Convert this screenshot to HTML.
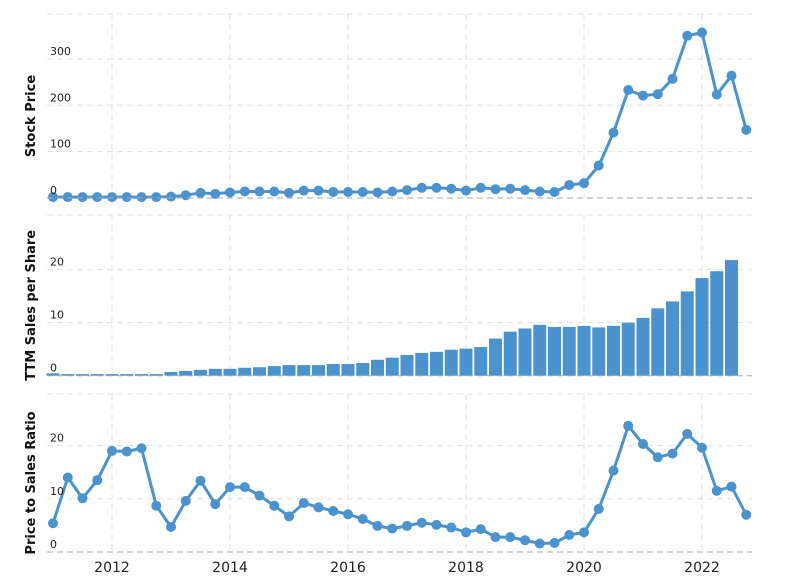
<!DOCTYPE html>
<html><head><meta charset="utf-8">
<style>
body{margin:0;background:#fff;}
svg{display:block;font-family:"DejaVu Sans","Liberation Sans",sans-serif;}
</style></head>
<body>
<svg id="chart" width="790" height="577" viewBox="0 0 790 577" xmlns="http://www.w3.org/2000/svg"></svg>
<script>
const years = [2012,2014,2016,2018,2020,2022];
const stockPrice = [2,2,2,2,2,2,2,2,3,6,11,9,12,14,14,14,11,16,16,13,13,13,12,14,17,22,22,20,16,22,19,20,17,14,13,28,32,70,141,233,221,224,257,350,357,223,264,147];
const salesPerShare = [0.45,0.3,0.3,0.3,0.3,0.3,0.3,0.3,0.7,0.9,1.1,1.3,1.3,1.5,1.6,1.8,2.0,2.0,2.0,2.2,2.2,2.4,3.0,3.4,3.9,4.3,4.5,4.9,5.1,5.4,7.0,8.3,8.9,9.6,9.2,9.2,9.4,9.1,9.4,10.0,10.9,12.7,14.0,15.9,18.4,19.7,21.8];
const psRatio = [5.4,14.0,10.1,13.5,19.0,18.9,19.5,8.7,4.7,9.6,13.4,9.0,12.2,12.2,10.6,8.7,6.7,9.2,8.4,7.7,7.1,6.2,4.9,4.4,4.9,5.5,5.1,4.6,3.7,4.3,2.8,2.8,2.2,1.6,1.7,3.2,3.7,8.1,15.3,23.7,20.3,17.8,18.5,22.2,19.6,11.5,12.3,7.0];
const priceTicks = [0,100,200,300];
const salesTicks = [0,10,20];
const ratioTicks = [0,10,20];

const NS="http://www.w3.org/2000/svg";
const svg=document.getElementById('chart');
function mk(tag,attrs,parent){const e=document.createElementNS(NS,tag);for(const k in attrs)e.setAttribute(k,attrs[k]);(parent||svg).appendChild(e);return e;}
const X0=47,X1=752;
function xYear(t){return 112+(t-2012)*59;}
function xIdx(i){return xYear(2011+i*0.25);}

const panels=[
 {name:'stock-price',title:'Stock Price',top:14,base:198,max:397,ticks:priceTicks,data:stockPrice,type:'line'},
 {name:'sales-per-share',title:'TTM Sales per Share',top:215,base:375.7,max:30.3,ticks:salesTicks,data:salesPerShare,type:'bar'},
 {name:'price-to-sales',title:'Price to Sales Ratio',top:394,base:552,max:29.7,ticks:ratioTicks,data:psRatio,type:'line'}
];
panels.forEach(p=>{
 const g=mk('g',{});
 
 
 const y=v=>p.base-(v/p.max)*(p.base-p.top);
 // vertical grid
 years.forEach(yr=>{
  const l=mk('line',{x1:xYear(yr),x2:xYear(yr),y1:p.top,y2:p.base,stroke:'#e0e0e0','stroke-dasharray':'6,4'},g);
  
  
 });
 // top grid
 const tl=mk('line',{x1:X0,x2:X1,y1:p.top,y2:p.top,stroke:'#e0e0e0','stroke-dasharray':'6,4'},g);
 
 
 p.ticks.forEach(t=>{
  if(t>0){
   const l=mk('line',{x1:X0,x2:X1,y1:y(t),y2:y(t),stroke:'#e0e0e0','stroke-dasharray':'6,4'},g);
   
   
  }
 });
 // marks
 if(p.type==='bar'){
  p.data.forEach((v,i)=>{
   const r=mk('rect',{x:xIdx(i)-6.5,y:y(v),width:13,height:p.base-y(v),fill:'#4a93cf'},g);
   
   
  });
 } else {
  const pts=p.data.map((v,i)=>xIdx(i).toFixed(1)+','+y(v).toFixed(1)).join(' ');
  const pl=mk('polyline',{points:pts,fill:'none',stroke:'#4a93cf','stroke-width':3,'stroke-linejoin':'round'},g);
  
  
  p.data.forEach((v,i)=>{
   const c=mk('circle',{cx:xIdx(i),cy:y(v),r:5,fill:'#4a93cf'},g);
   
   
  });
 }
 // baseline
 const bl=mk('line',{x1:X0,x2:X1,y1:p.base,y2:p.base,stroke:'#aaa','stroke-dasharray':'6,4'},g);
 
 
 // tick labels
 p.ticks.forEach(t=>{
  const tx=mk('text',{x:50,y:y(t)-4,'font-size':11,fill:'#222'},g);
  tx.textContent=t;
  
  
 });
 const mid=(p.top+p.base)/2+10;
 const at=mk('text',{x:35,y:mid,'font-size':13,'font-weight':'bold',fill:'#111','text-anchor':'middle',transform:'rotate(-90 35 '+mid+')'},g);
 at.textContent=p.title;
 
 
});
years.forEach(yr=>{
 const t=mk('text',{x:xYear(yr),y:572,'font-size':14,fill:'#222','text-anchor':'middle'});
 t.textContent=yr;
 
 
});
</script>
</body></html>
